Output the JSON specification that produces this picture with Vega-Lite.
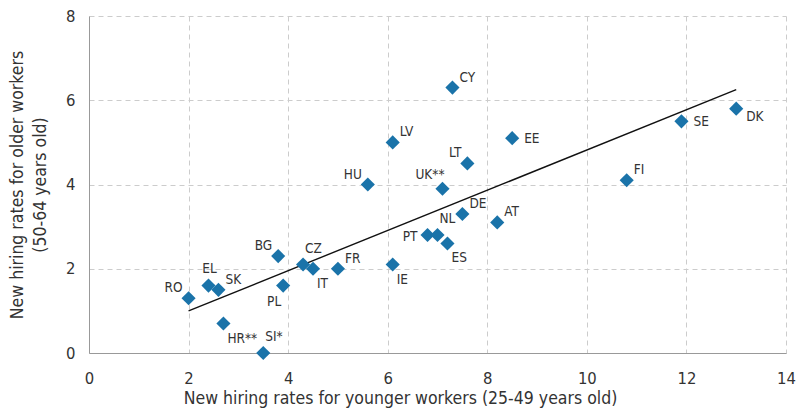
{
  "$schema": "https://vega.github.io/schema/vega-lite/v6.json",
  "width": 697,
  "height": 337,
  "autosize": {"type": "none"},
  "padding": {"left": 89, "top": 16, "right": 10, "bottom": 57},
  "config": {
    "view": {"stroke": null},
    "font": "DejaVu Sans Condensed",
    "axis": {
      "labelFont": "DejaVu Sans Condensed",
      "titleFont": "DejaVu Sans Condensed",
      "labelFontSize": 16.5,
      "titleFontSize": 17.5,
      "titleFontWeight": "normal",
      "labelColor": "#333333",
      "titleColor": "#333333",
      "domainColor": "#999999",
      "gridColor": "#cccccc",
      "gridDash": [5, 4],
      "ticks": false
    }
  },
  "datasets": {
    "pts": [
      {"c": "RO", "x": 2.0, "y": 1.3},
      {"c": "EL", "x": 2.4, "y": 1.6},
      {"c": "SK", "x": 2.6, "y": 1.5},
      {"c": "HR**", "x": 2.7, "y": 0.7},
      {"c": "SI*", "x": 3.5, "y": 0.0},
      {"c": "BG", "x": 3.8, "y": 2.3},
      {"c": "PL", "x": 3.9, "y": 1.6},
      {"c": "CZ", "x": 4.3, "y": 2.1},
      {"c": "IT", "x": 4.5, "y": 2.0},
      {"c": "FR", "x": 5.0, "y": 2.0},
      {"c": "IE", "x": 6.1, "y": 2.1},
      {"c": "HU", "x": 5.6, "y": 4.0},
      {"c": "LV", "x": 6.1, "y": 5.0},
      {"c": "CY", "x": 7.3, "y": 6.3},
      {"c": "UK**", "x": 7.1, "y": 3.9},
      {"c": "LT", "x": 7.6, "y": 4.5},
      {"c": "EE", "x": 8.5, "y": 5.1},
      {"c": "DE", "x": 7.5, "y": 3.3},
      {"c": "AT", "x": 8.2, "y": 3.1},
      {"c": "PT", "x": 6.8, "y": 2.8},
      {"c": "NL", "x": 7.0, "y": 2.8},
      {"c": "ES", "x": 7.2, "y": 2.6},
      {"c": "FI", "x": 10.8, "y": 4.1},
      {"c": "SE", "x": 11.9, "y": 5.5},
      {"c": "DK", "x": 13.0, "y": 5.8}
    ],
    "trend": [
      {"x": 2.0, "y": 1.0},
      {"x": 13.0, "y": 6.25}
    ]
  },
  "encoding": {
    "x": {
      "field": "x", "type": "quantitative",
      "scale": {"domain": [0, 14]},
      "axis": {
        "values": [0, 2, 4, 6, 8, 10, 12, 14],
        "title": "New hiring rates for younger workers (25-49 years old)",
        "titleX": 311,
        "titleAlign": "center",
        "labelPadding": 17,
        "titlePadding": 3,
        "labelFlush": false
      }
    },
    "y": {
      "field": "y", "type": "quantitative",
      "scale": {"domain": [0, 8]},
      "axis": {
        "values": [0, 2, 4, 6, 8],
        "title": ["New hiring rates for older workers", "(50-64 years old)"],
        "titleLineHeight": 23,
        "labelPadding": 14,
        "titlePadding": 16
      }
    }
  },
  "layer": [
    {
      "data": {"name": "trend"},
      "mark": {"type": "line", "color": "#111111", "strokeWidth": 1.4}
    },
    {
      "data": {"name": "pts"},
      "mark": {"type": "point", "shape": "diamond", "filled": true, "size": 200, "color": "#1a73a9", "opacity": 1}
    },
    {
      "data": {"name": "pts"},
      "transform": [{"filter": {"field": "c", "oneOf": ["SK", "FR", "LV", "CY", "DE", "AT", "FI"]}}],
      "mark": {"type": "text", "align": "left", "baseline": "middle", "dx": 7, "dy": -10, "fontSize": 13.5, "color": "#333333"},
      "encoding": {"text": {"field": "c"}}
    },
    {
      "data": {"name": "pts"},
      "transform": [{"filter": {"field": "c", "oneOf": ["SI*", "NL", "CZ"]}}],
      "mark": {"type": "text", "align": "left", "baseline": "middle", "dx": 2, "dy": -16, "fontSize": 13.5, "color": "#333333"},
      "encoding": {"text": {"field": "c"}}
    },
    {
      "data": {"name": "pts"},
      "transform": [{"filter": {"field": "c", "oneOf": ["EL"]}}],
      "mark": {"type": "text", "align": "center", "baseline": "middle", "dx": 1, "dy": -17, "fontSize": 13.5, "color": "#333333"},
      "encoding": {"text": {"field": "c"}}
    },
    {
      "data": {"name": "pts"},
      "transform": [{"filter": {"field": "c", "oneOf": ["RO", "BG", "HU", "LT"]}}],
      "mark": {"type": "text", "align": "right", "baseline": "middle", "dx": -6, "dy": -10, "fontSize": 13.5, "color": "#333333"},
      "encoding": {"text": {"field": "c"}}
    },
    {
      "data": {"name": "pts"},
      "transform": [{"filter": {"field": "c", "oneOf": ["UK**"]}}],
      "mark": {"type": "text", "align": "right", "baseline": "middle", "dx": 2, "dy": -14, "fontSize": 13.5, "color": "#333333"},
      "encoding": {"text": {"field": "c"}}
    },
    {
      "data": {"name": "pts"},
      "transform": [{"filter": {"field": "c", "oneOf": ["HR**", "IT", "IE", "ES"]}}],
      "mark": {"type": "text", "align": "left", "baseline": "middle", "dx": 4, "dy": 15, "fontSize": 13.5, "color": "#333333"},
      "encoding": {"text": {"field": "c"}}
    },
    {
      "data": {"name": "pts"},
      "transform": [{"filter": {"field": "c", "oneOf": ["PL"]}}],
      "mark": {"type": "text", "align": "right", "baseline": "middle", "dx": -2, "dy": 16, "fontSize": 13.5, "color": "#333333"},
      "encoding": {"text": {"field": "c"}}
    },
    {
      "data": {"name": "pts"},
      "transform": [{"filter": {"field": "c", "oneOf": ["EE", "SE"]}}],
      "mark": {"type": "text", "align": "left", "baseline": "middle", "dx": 12, "dy": 1, "fontSize": 13.5, "color": "#333333"},
      "encoding": {"text": {"field": "c"}}
    },
    {
      "data": {"name": "pts"},
      "transform": [{"filter": {"field": "c", "oneOf": ["PT"]}}],
      "mark": {"type": "text", "align": "right", "baseline": "middle", "dx": -10, "dy": 2, "fontSize": 13.5, "color": "#333333"},
      "encoding": {"text": {"field": "c"}}
    },
    {
      "data": {"name": "pts"},
      "transform": [{"filter": {"field": "c", "oneOf": ["DK"]}}],
      "mark": {"type": "text", "align": "left", "baseline": "middle", "dx": 10, "dy": 8, "fontSize": 13.5, "color": "#333333"},
      "encoding": {"text": {"field": "c"}}
    }
  ]
}
